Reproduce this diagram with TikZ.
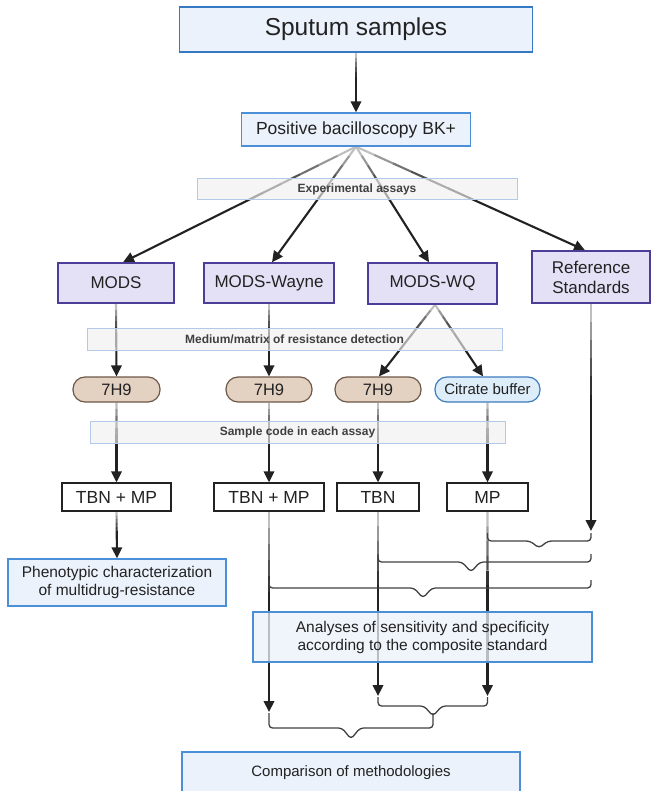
\documentclass[tikz,border=0pt]{standalone}
\usepackage{fontspec}
\setmainfont{Liberation Sans}
\usetikzlibrary{arrows.meta,calc}
\pgfdeclarelayer{bg}
\pgfsetlayers{bg,main}
\definecolor{bluefill}{HTML}{EBF2FB}
\definecolor{blueline}{HTML}{4A8FD8}
\definecolor{bluedark}{HTML}{3479C2}
\definecolor{lavfill}{HTML}{E4E0F6}
\definecolor{lavline}{HTML}{4D3D99}
\definecolor{tanfill}{HTML}{E3D1C2}
\definecolor{tanline}{HTML}{6E5848}
\definecolor{citfill}{HTML}{DDEDFA}
\definecolor{citline}{HTML}{3C7BBE}
\definecolor{bandfill}{HTML}{F0F0F0}
\definecolor{bandline}{HTML}{B3C9EA}
\definecolor{bandtext}{HTML}{404040}
\definecolor{ink}{HTML}{222222}
\tikzset{
  box/.style={draw, inner sep=0pt, align=center, text=ink},
  bluebox/.style={box, draw=blueline, fill=bluefill, line width=1.3pt},
  lavbox/.style={box, draw=lavline, fill=lavfill, line width=1.5pt, font=\fontsize{17}{20}\selectfont},
  pill/.style={box, rounded corners=12pt, line width=1.2pt, minimum height=25pt, font=\fontsize{16.5}{18}\selectfont},
  tanpill/.style={pill, draw=tanline, fill=tanfill},
  bluepill/.style={pill, draw=citline, fill=citfill},
  codebox/.style={box, draw=ink, fill=white, line width=1.3pt, minimum height=28pt, font=\fontsize{17.5}{20}\selectfont},
  band/.style={box, draw=bandline, fill=bandfill, fill opacity=0.65, text opacity=1, line width=1pt, minimum height=22pt, text=bandtext, font=\bfseries\fontsize{12}{14}\selectfont},
  conn/.style={line width=2.1pt},
  bracestyle/.style={draw=black!75, line width=1.3pt, rounded corners=3.5pt},
}
\newcommand{\glink}[2]{%
  \foreach \ga/\gb/\gc in {0/0.08/25,0.08/0.16/40,0.16/0.24/55,0.24/0.32/68,0.32/0.40/80}{%
    \draw[conn, draw=black!\gc] ($(#1)!\ga!(#2)$) -- ($(#1)!\gb!(#2)$);}%
  \draw[conn, draw=ink, -{Triangle[length=11pt,width=10.5pt]}] ($(#1)!0.4!(#2)$) -- (#2);%
}
\newcommand{\brc}[6]{\draw[bracestyle] (#1,#3) -- (#1,#4) -- ({#5-9},#4) -- (#5,#6) -- ({#5+9},#4) -- (#2,#4) -- (#2,#3);}
\begin{document}
\begin{tikzpicture}[x=1pt,y=-1pt]
\useasboundingbox (0,0) rectangle (651,791);
\node[bluebox, draw=bluedark, line width=1.8pt, minimum width=353pt, minimum height=45pt, font=\fontsize{24.5}{28}\selectfont] (sputum) at (356,29.5) {Sputum samples};
\node[bluebox, minimum width=229pt, minimum height=33pt, font=\fontsize{17.5}{20}\selectfont] (pos) at (356,129.5) {Positive bacilloscopy BK+};
\node[band, minimum width=320pt, minimum height=21pt] (exp) at (357,189) {Experimental assays};
\node[lavbox, minimum width=116pt, minimum height=40pt] (mods) at (116,283) {MODS};
\node[lavbox, minimum width=130pt, minimum height=40pt] (modsw) at (269,283) {MODS-Wayne};
\node[lavbox, minimum width=129pt, minimum height=41pt] (modswq) at (432.5,283.5) {MODS-WQ};
\node[lavbox, minimum width=118pt, minimum height=52pt] (ref) at (591,277) {Reference\\Standards};
\node[band, minimum width=415pt] (medium) at (294.5,339) {Medium/matrix of resistance detection};
\node[tanpill, minimum width=87pt] (h1) at (116.5,389.5) {7H9};
\node[tanpill, minimum width=86pt] (h2) at (269,389.5) {7H9};
\node[tanpill, minimum width=86pt] (h3) at (378,389.5) {7H9};
\node[bluepill, minimum width=105pt, font=\fontsize{15}{18}\selectfont] (cit) at (487.5,389.5) {Citrate buffer};
\node[band, minimum width=415pt] (sample) at (297.5,432) {Sample code in each assay};
\node[codebox, minimum width=109pt] (c1) at (116.5,497) {TBN + MP};
\node[codebox, minimum width=110pt] (c2) at (269,497) {TBN + MP};
\node[codebox, minimum width=82pt] (c3) at (378,497) {TBN};
\node[codebox, minimum width=81pt] (c4) at (487.5,497) {MP};
\node[bluebox, minimum width=218pt, minimum height=47pt, font=\fontsize{15.5}{17.5}\selectfont] (pheno) at (117,582.5) {Phenotypic characterization\\of multidrug-resistance};
\node[bluebox, fill opacity=0.75, text opacity=1, minimum width=339pt, minimum height=50pt, font=\fontsize{15.5}{18}\selectfont] (anal) at (422.5,637) {Analyses of sensitivity and specificity\\according to the composite standard};
\node[bluebox, minimum width=338pt, minimum height=42pt, font=\fontsize{15}{18}\selectfont] (comp) at (351,773) {Comparison of methodologies};
\begin{pgfonlayer}{bg}
\coordinate (t1) at ($(mods.north)+(7,0)$);
\coordinate (t2) at ($(modsw.north)+(3,0)$);
\coordinate (t3) at ($(modswq.north)+(-3.5,0)$);
\coordinate (t4) at ($(ref.north)+(-6,0)$);
\coordinate (wq) at ($(modswq.south)+(2.5,0)$);
\coordinate (t5) at ($(h3.north)+(1,0)$);
\coordinate (t6) at ($(cit.north)+(-4.5,0)$);
\coordinate (refend) at (591,531);
\coordinate (e2) at (269,712);
\coordinate (e3) at (378,696);
\coordinate (e4) at (487.5,696);
\glink{sputum.south}{pos.north}
\glink{pos.south}{t1}
\glink{pos.south}{t2}
\glink{pos.south}{t3}
\glink{pos.south}{t4}
\glink{mods.south}{h1.north}
\glink{modsw.south}{h2.north}
\glink{wq}{t5}
\glink{wq}{t6}
\glink{h1.south}{c1.north}
\glink{h2.south}{c2.north}
\glink{h3.south}{c3.north}
\glink{cit.south}{c4.north}
\glink{c1.south}{pheno.north}
\glink{ref.south}{refend}
\glink{c2.south}{e2}
\glink{c3.south}{e3}
\glink{c4.south}{e4}
\end{pgfonlayer}
\brc{487.5}{591}{533}{541}{539}{548}
\brc{378}{591}{554}{562}{471}{572}
\brc{269}{591}{580}{588}{423}{598}
\brc{378}{487.5}{697}{706}{433}{716}
\brc{269}{433}{713}{728}{351}{739}
\end{tikzpicture}
\end{document}
